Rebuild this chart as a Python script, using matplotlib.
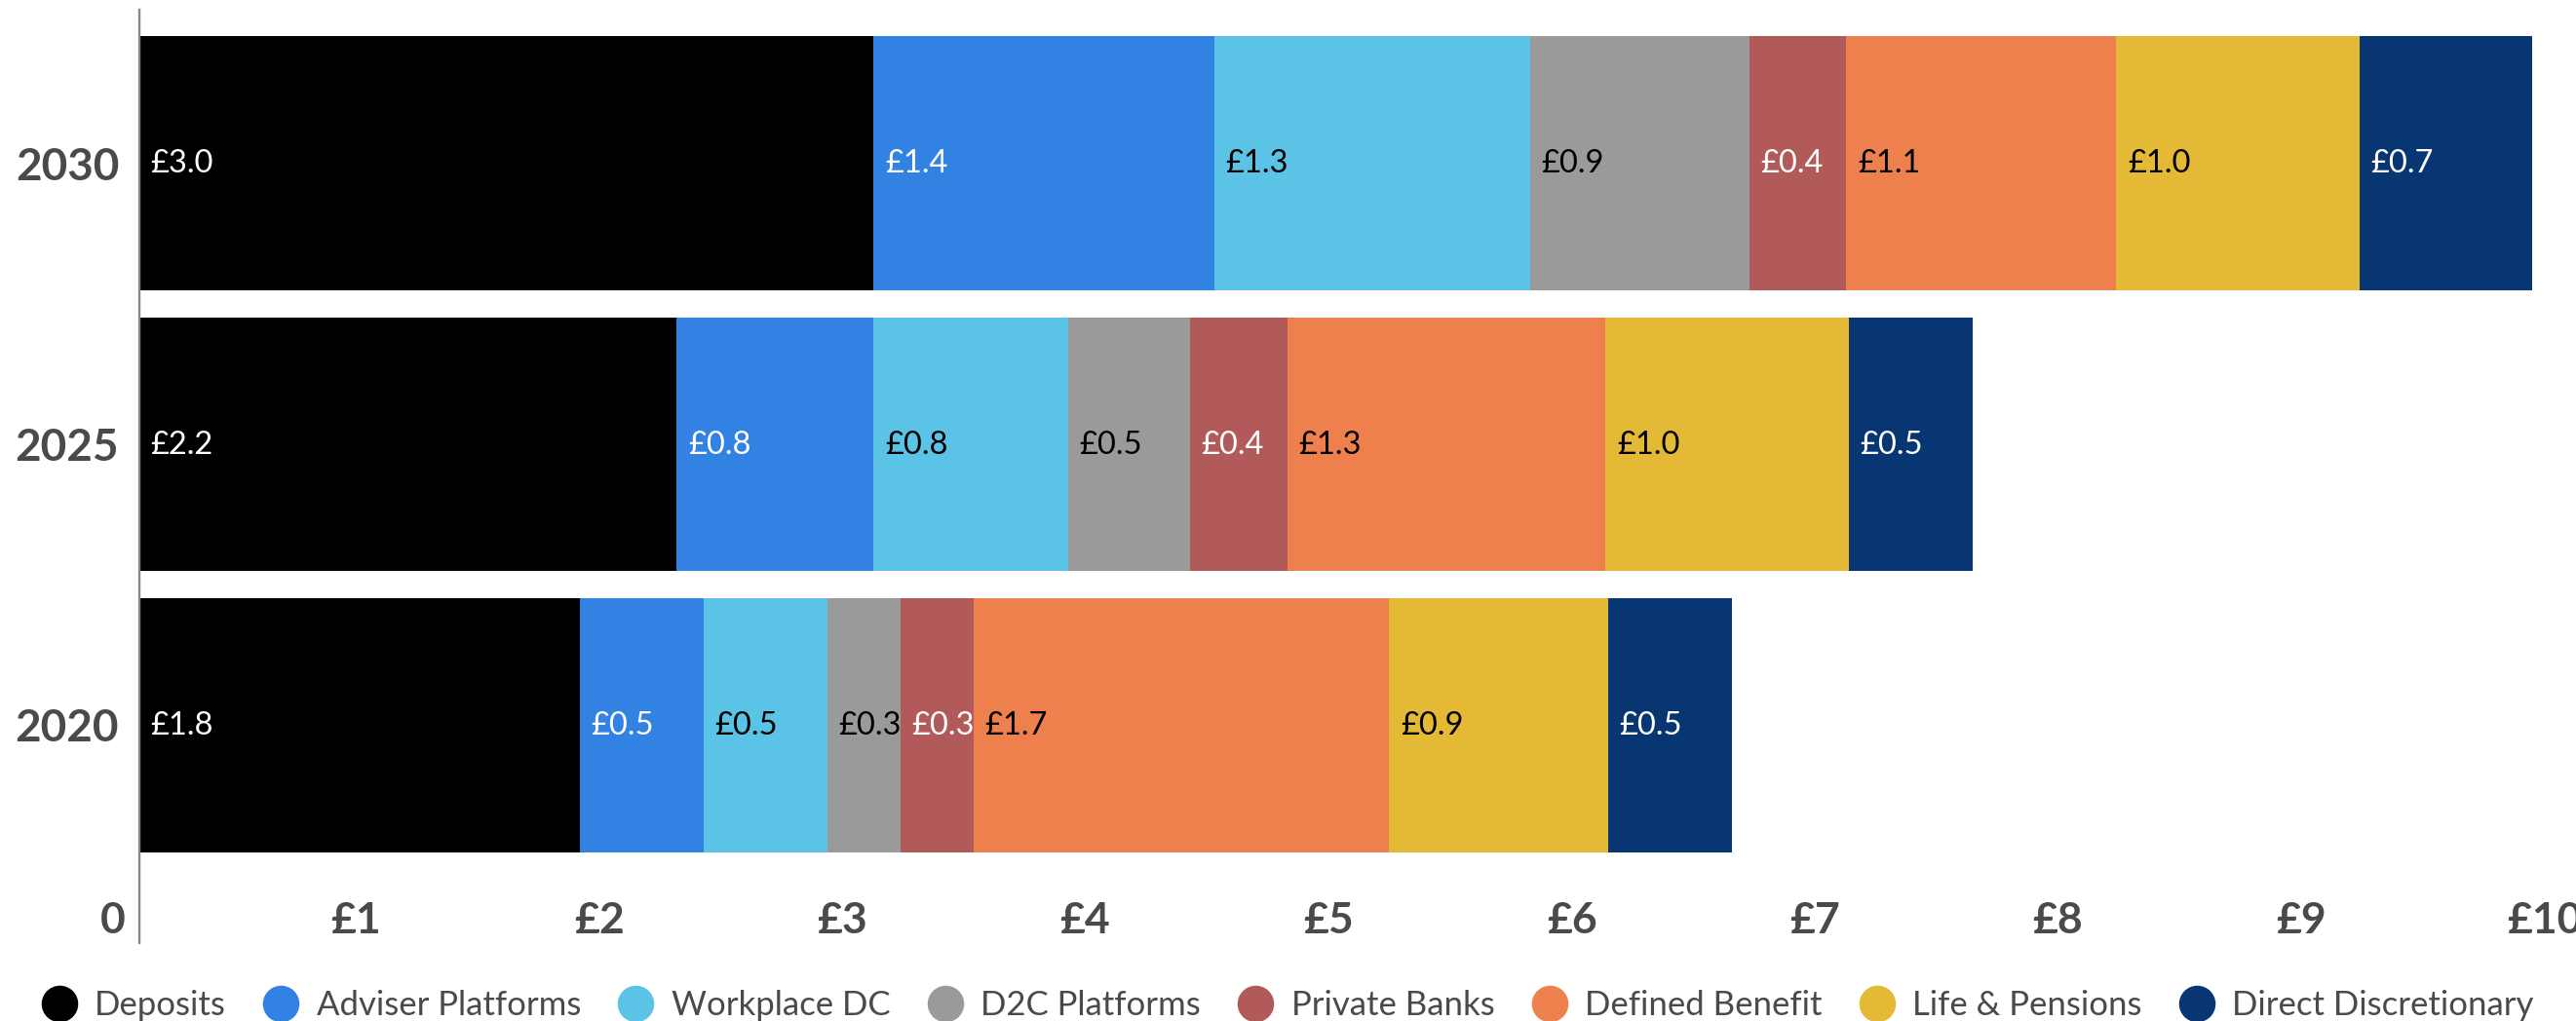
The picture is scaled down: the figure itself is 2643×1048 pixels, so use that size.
import numpy as np
import matplotlib
matplotlib.use("Agg")
import matplotlib.pyplot as plt
from matplotlib.lines import Line2D
from matplotlib.transforms import ScaledTranslation

plt.rcParams["font.family"] = ["Lato", "DejaVu Sans"]

# ---------------------------------------------------------------------------
# Data (£ trillions)
# ---------------------------------------------------------------------------
years = ["2020", "2025", "2030"]
series = ["Deposits", "Adviser Platforms", "Workplace DC", "D2C Platforms",
          "Private Banks", "Defined Benefit", "Life & Pensions", "Direct Discretionary"]

deposits       = [1.81, 2.21, 3.02]
adviser        = [0.51, 0.81, 1.40]
workplace_dc   = [0.51, 0.80, 1.30]
d2c_platforms  = [0.30, 0.50, 0.90]
private_banks  = [0.30, 0.40, 0.40]
defined_benef  = [1.71, 1.31, 1.11]
life_pensions  = [0.90, 1.00, 1.00]
direct_discr   = [0.51, 0.51, 0.71]

values = [deposits, adviser, workplace_dc, d2c_platforms,
          private_banks, defined_benef, life_pensions, direct_discr]

colors = ["#000000", "#3182E3", "#5BC4E6", "#9A9A9A",
          "#B15A59", "#EE804E", "#E3B935", "#073672"]
label_colors = ["white", "white", "black", "black",
                "white", "black", "black", "white"]

xticks = np.arange(0, 11)
xtick_labels = ["0"] + [f"£{k}" for k in xticks[1:]]

TXT = "#4a4a4a"

# ---------------------------------------------------------------------------
# Figure
# ---------------------------------------------------------------------------
W, H = 2643, 1048
fig = plt.figure(figsize=(W / 100, H / 100), dpi=100)
ax = fig.add_axes([143 / W, 80 / H, 2495 / W, 958 / H])

ypos = np.arange(len(years))
left = np.zeros(len(years))
for vals, col, tcol in zip(values, colors, label_colors):
    ax.barh(ypos, vals, left=left, height=0.902, color=col, linewidth=0)
    for y, l, v in zip(ypos, left, vals):
        ax.annotate(f"£{v:.1f}", (l, y), xytext=(8.3, -0.5), textcoords="offset points",
                    ha="left", va="center", fontsize=23.5, color=tcol)
    left = left + np.array(vals)

ax.set_xlim(0, 10)
ax.set_ylim(-0.775, 2.546)

for side in ["top", "right", "bottom"]:
    ax.spines[side].set_visible(False)
ax.spines["left"].set_color("#888888")
ax.spines["left"].set_linewidth(1.7)

ax.set_yticks(ypos, years)
ax.tick_params(axis="y", length=0, pad=15, labelsize=33, labelcolor=TXT)
for lab in ax.get_yticklabels():
    lab.set_fontweight("bold")

# x tick labels sit inside the plot area, slightly left of their gridpoint
ax.set_xticks(xticks, xtick_labels)
ax.tick_params(axis="x", length=0, pad=0, labelsize=32, labelcolor=TXT)
shift = ScaledTranslation(-27.5 / 100, 23 / 100, fig.dpi_scale_trans)
for lab in ax.get_xticklabels():
    lab.set_fontweight("bold")
    lab.set_va("center")
    lab.set_transform(lab.get_transform() + shift)

handles = [Line2D([], [], marker="o", ls="", markersize=26,
                  markerfacecolor=c, markeredgecolor=c) for c in colors]
fig.legend(handles, series, loc="center", bbox_to_anchor=(0.5, 16 / H), ncol=8,
           frameon=False, fontsize=25, labelcolor=TXT, handlelength=1.0,
           handletextpad=0.55, columnspacing=1.12, borderpad=0, borderaxespad=0)

fig.savefig("out.png", dpi=100)
